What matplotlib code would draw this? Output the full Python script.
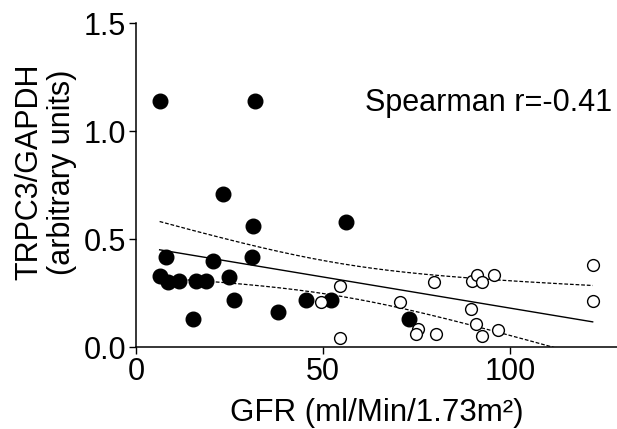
import numpy as np
import matplotlib
matplotlib.use("Agg")
import matplotlib.pyplot as plt

plt.rcParams['font.family'] = ['Liberation Sans', 'DejaVu Sans']

# Filled circles (low GFR group)
filled_x = [6.3, 31.8, 23.3, 31.3, 56.1, 8.1, 20.5, 30.9, 6.3, 8.6, 11.4, 15.9,
            18.6, 24.9, 26.3, 15.1, 38.0, 45.5, 52.0, 72.9]
filled_y = [1.139, 1.14, 0.709, 0.562, 0.579, 0.418, 0.399, 0.418, 0.33, 0.30,
            0.308, 0.308, 0.308, 0.324, 0.22, 0.129, 0.163, 0.218, 0.218, 0.129]

# Open circles (high GFR group)
open_x = [54.6, 49.3, 54.6, 70.6, 79.6, 75.2, 74.7, 80.2, 89.5, 89.7, 91.0,
          92.5, 95.7, 90.9, 92.5, 96.8, 122.0, 122.0]
open_y = [0.285, 0.21, 0.04, 0.209, 0.303, 0.082, 0.059, 0.062, 0.176, 0.308,
          0.334, 0.299, 0.334, 0.105, 0.051, 0.079, 0.381, 0.215]

x_ticks = [0, 50, 100]
y_ticks = [0.0, 0.5, 1.0, 1.5]
y_tick_labels = ["0.0", "0.5", "1.0", "1.5"]
annotation = "Spearman r=-0.41"

# linear regression with 95% confidence band
allx = np.array(filled_x + open_x)
ally = np.array(filled_y + open_y)
n = len(allx)
slope, intercept = np.polyfit(allx, ally, 1)
xs = np.linspace(allx.min(), allx.max(), 200)
yhat = intercept + slope * xs
resid = ally - (intercept + slope * allx)
s = np.sqrt(np.sum(resid ** 2) / (n - 2))
sxx = np.sum((allx - allx.mean()) ** 2)
tval = 2.028
band = tval * s * np.sqrt(1.0 / n + (xs - allx.mean()) ** 2 / sxx)

fig = plt.figure(figsize=(6.17, 4.29), dpi=100)
ax = fig.add_axes([0.2205, 0.191, 0.7795, 0.755])

ax.plot(xs, yhat, color='black', lw=1.0, zorder=2)
ax.plot(xs, yhat + band, color='black', lw=0.9, ls=(0, (3, 1.5)), zorder=2)
ax.plot(xs, yhat - band, color='black', lw=0.9, ls=(0, (3, 1.5)), zorder=2)

ax.plot(filled_x, filled_y, 'o', color='black', markersize=10.5, zorder=3)
ax.plot(open_x, open_y, 'o', markerfacecolor='white', markeredgecolor='black',
        markeredgewidth=1.0, markersize=8.5, zorder=3)

ax.set_xlim(0, 128.5)
ax.set_ylim(0, 1.5)
ax.set_xticks(x_ticks)
ax.set_yticks(y_ticks)
ax.set_yticklabels(y_tick_labels)
ax.tick_params(direction='out', length=5, width=1, labelsize=22, pad=2)
for sp in ['top', 'right']:
    ax.spines[sp].set_visible(False)
for sp in ['left', 'bottom']:
    ax.spines[sp].set_linewidth(1.1)

ax.set_xlabel("GFR (ml/Min/1.73m²)", fontsize=22.5, labelpad=8)
ax.set_ylabel("TRPC3/GAPDH\n(arbitrary units)", fontsize=22, linespacing=1.1)
ax.yaxis.set_label_coords(-0.123, 0.54)
ax.text(0.989, 0.7276, annotation, transform=ax.transAxes, ha='right',
        va='baseline', fontsize=22)

fig.savefig("out.png", dpi=100)
